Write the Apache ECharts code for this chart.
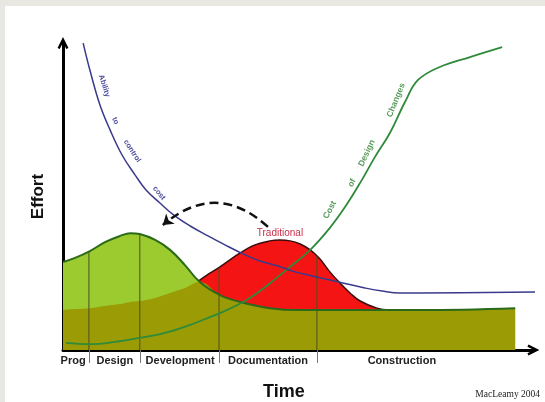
<!DOCTYPE html>
<html><head><meta charset="utf-8">
<script src="https://cdn.jsdelivr.net/npm/echarts@6/dist/echarts.min.js"></script>
<style>html,body{margin:0;padding:0;background:#e9e7e1}#c{width:545px;height:402px}</style>
</head><body><div id="c"></div>
<script>
// ---- data (time 0..98, effort 0..99, arbitrary units) ----
const phaseNames = ['Prog', 'Design', 'Development', 'Documentation', 'Construction'];
const phaseLabelX = [2.1, 10.8, 24.4, 42.7, 70.6];
const phaseBoundX = [5.4, 16.0, 32.5, 52.9];
const phaseBoundTop = [31.6, 37.4, 26.5, 30.3];

const areaTime = [0, 2.5, 5.6, 8.75, 11.9, 14.0, 16.0, 19.2, 22.3, 25.4, 28.5, 32.7, 36.9, 43.1, 49.4, 59.8, 74.4, 94.2];
const preferredEffort = [28.4, 29.7, 31.9, 34.8, 36.8, 37.7, 37.4, 35.5, 32.3, 27.4, 21.9, 17.7, 15.5, 13.5, 12.9, 12.9, 12.9, 13.5];
const baseEffort = [12.9, 13.2, 13.5, 14.2, 14.8, 15.5, 15.8, 16.8, 18.4, 20.0, 21.9, 17.7, 15.5, 13.5, 12.9, 12.9, 12.9, 13.5];

const tradTime = [27.9, 30.6, 32.7, 36.9, 40.0, 43.1, 45.2, 47.3, 49.4, 51.5, 53.5, 55.6, 57.7, 59.8, 61.9, 65.4, 68.1];
const tradEffort = [21.9, 24.8, 26.8, 31.3, 33.9, 35.2, 35.5, 35.2, 34.2, 32.3, 29.4, 25.2, 21.6, 18.4, 15.8, 13.5, 12.9];

const costTime = [0.6, 5.6, 10.8, 16.0, 21.3, 26.5, 29.6, 32.7, 37.5, 41.0, 43.75, 47.3, 51.5, 55.6, 58.75, 61.9, 65.0, 68.1, 71.25, 73.96, 78.5, 84.8, 91.5];
const costValue = [2.3, 1.9, 2.6, 3.9, 5.5, 8.1, 10.0, 11.9, 15.5, 19.0, 22.3, 26.8, 32.3, 39.4, 46.1, 53.9, 62.3, 70.0, 80.0, 87.1, 91.3, 94.5, 97.7];

const abilityTime = [4.2, 5.6, 7.7, 9.8, 12.3, 15.0, 17.3, 20.2, 23.1, 26.5, 30.2, 33.75, 37.5, 41.0, 44.8, 48.3, 51.9, 55.6, 59.2, 62.9, 66.5, 70.2, 74.4, 100.4];
const abilityValue = [99.0, 90.3, 79.0, 71.0, 62.9, 56.5, 51.6, 47.4, 43.5, 40.0, 36.8, 33.9, 31.0, 28.7, 27.1, 25.2, 23.9, 22.6, 21.3, 20.0, 19.0, 18.4, 18.4, 18.7];

const abilityWords = ['Ability', 'to', 'control', 'cost'];
const costWords = ['Cost', 'of', 'Design', 'Changes'];
const shiftFrom = [42.7, 39.7];
const shiftTo = [20.8, 40.3];

// ---- annotation layout (data-space anchors, angles) ----
const abilityWordAt = [[8.6, 85.2, -72], [10.9, 73.9, -65], [14.4, 64.2, -57], [20.0, 50.6, -50]];
const costWordAt = [[55.6, 45.2, 62], [60.2, 53.9, 62], [63.3, 63.5, 65], [69.4, 80.6, 68]];
const tradLabelAt = [45.2, 37.8];

const pairs = (xs, ys) => xs.map((x, i) => [x, ys[i]]);
const arrowPath = 'path://M0,10 L5,0 L10,10 L8,11 L5,5 L2,11 Z';
const FONT = '"Liberation Sans", Arial, sans-serif';

const chart = echarts.init(document.getElementById('c'), null, { renderer: 'canvas' });

const wordPoints = (words, at, color, size) => ({
  symbol: 'circle', symbolSize: 1, silent: true,
  itemStyle: { color: 'rgba(0,0,0,0)' },
  label: { show: true, position: 'inside', color: color, fontSize: size, fontWeight: 'bold', fontFamily: FONT, formatter: p => p.name },
  data: words.map((w, i) => ({ name: w, coord: [at[i][0], at[i][1]], label: { rotate: at[i][2] } }))
});

const dividerSeries = phaseBoundX.map((x, i) => ({
  type: 'line', data: [[x, 0], [x, phaseBoundTop[i]]], symbol: 'none', silent: true,
  lineStyle: { color: '#4d5020', width: 1 }, z: 5
}));

const option = {
  backgroundColor: '#e9e7e1',
  animation: false,
  graphic: [
    { type: 'rect', left: 5, top: 6, shape: { width: 545, height: 402 }, style: { fill: '#ffffff' }, z: -10, silent: true },
    { type: 'text', left: 263, top: 383, style: { text: 'Time', font: 'bold 18px ' + FONT, fill: '#111' } },
    { type: 'text', right: 5, top: 389, style: { text: 'MacLeamy 2004', font: '9.5px "Liberation Serif", "Times New Roman", serif', fill: '#222' } }
  ],
  grid: { left: 63, right: 11.6, top: 43.1, bottom: 52 },
  xAxis: {
    type: 'value', min: 0, max: 98,
    axisLine: { show: true, onZero: false, lineStyle: { color: '#000', width: 3 }, symbol: ['none', arrowPath], symbolSize: [12, 12] },
    axisTick: { show: true, customValues: phaseBoundX, length: 13, lineStyle: { color: '#777', width: 1 } },
    axisLabel: {
      show: true, customValues: phaseLabelX, margin: 5, color: '#222', fontWeight: 'bold', fontSize: 11, fontFamily: FONT,
      formatter: v => { let b = 0; phaseLabelX.forEach((p, i) => { if (Math.abs(p - v) < Math.abs(phaseLabelX[b] - v)) b = i; }); return phaseNames[b]; }
    },
    splitLine: { show: false }
  },
  yAxis: {
    type: 'value', min: 0, max: 99,
    name: 'Effort', nameLocation: 'middle', nameGap: 16, nameRotate: 90,
    nameTextStyle: { fontWeight: 'bold', fontSize: 17, color: '#111', fontFamily: FONT },
    axisLine: { show: true, onZero: false, lineStyle: { color: '#000', width: 3 }, symbol: ['none', arrowPath], symbolSize: [12, 12] },
    axisTick: { show: false }, axisLabel: { show: false }, splitLine: { show: false }
  },
  series: [
    {
      name: 'Traditional', type: 'line', data: pairs(tradTime, tradEffort), smooth: 0.4, symbol: 'none', z: 2,
      lineStyle: { color: '#3a0c0c', width: 1.5 }, areaStyle: { color: '#f51414', opacity: 1 },
      markPoint: {
        symbol: 'circle', symbolSize: 1, silent: true, itemStyle: { color: 'rgba(0,0,0,0)' },
        label: { show: true, position: 'inside', color: '#c8304a', fontSize: 10, fontFamily: FONT, formatter: p => p.name },
        data: [{ name: 'Traditional', coord: tradLabelAt }]
      }
    },
    {
      name: 'Preferred', type: 'line', data: pairs(areaTime, preferredEffort), smooth: 0.4, symbol: 'none', z: 3,
      lineStyle: { width: 0 }, areaStyle: { color: '#9bcb2f', opacity: 1 }
    },
    {
      name: 'Base', type: 'line', data: pairs(areaTime, baseEffort), smooth: 0.4, symbol: 'none', z: 4,
      lineStyle: { width: 0 }, areaStyle: { color: '#9a9b05', opacity: 1 }
    },
    ...dividerSeries,
    {
      name: 'PreferredOutline', type: 'line', data: pairs(areaTime, preferredEffort), smooth: 0.4, symbol: 'none', z: 6,
      lineStyle: { color: '#2a6a1a', width: 2 }
    },
    {
      name: 'Cost of Design Changes', type: 'line', data: pairs(costTime, costValue), smooth: 0.4, symbol: 'none', z: 7,
      lineStyle: { color: '#2f8a3a', width: 1.8 },
      markPoint: wordPoints(costWords, costWordAt, '#5a9a5a', 8.5)
    },
    {
      name: 'Ability to control cost', type: 'line', data: pairs(abilityTime, abilityValue), smooth: 0.4, symbol: 'none', z: 7, clip: false,
      lineStyle: { color: '#3a3a8c', width: 1.5 },
      markPoint: wordPoints(abilityWords, abilityWordAt, '#4b4b9b', 7.5)
    },
    {
      name: 'Shift', type: 'lines', coordinateSystem: 'cartesian2d', silent: true, z: 8,
      symbol: ['none', 'arrow'], symbolSize: 10,
      lineStyle: { color: '#111', width: 2.5, type: [9, 5], curveness: -0.44, opacity: 1 },
      data: [{ coords: [shiftFrom, shiftTo] }]
    }
  ]
};
chart.setOption(option);
</script></body></html>
